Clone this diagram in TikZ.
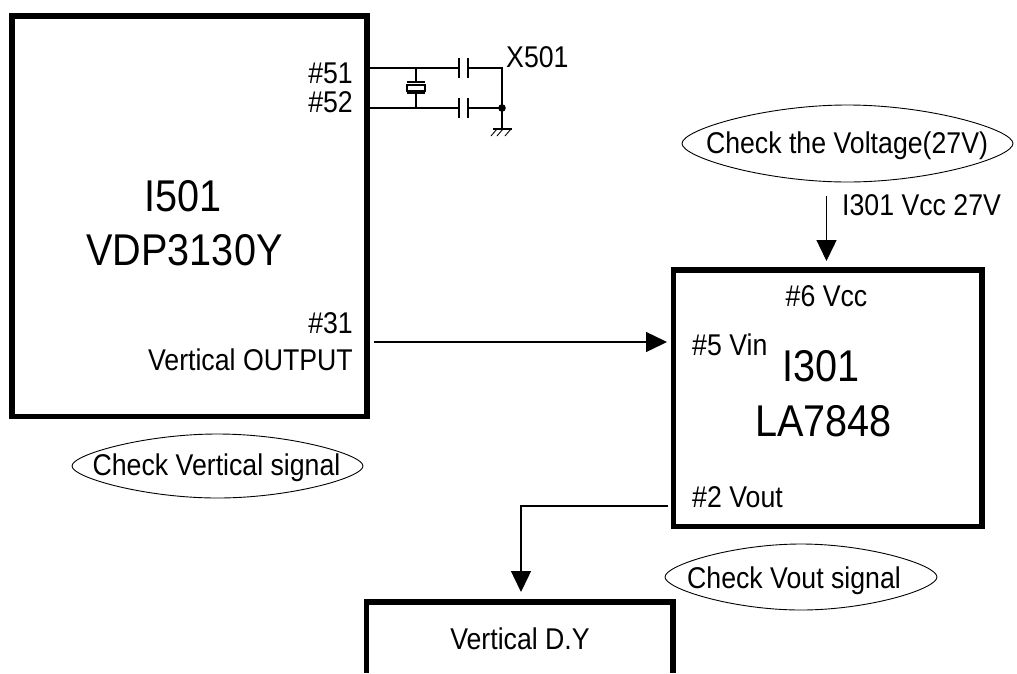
\documentclass[tikz,border=0pt]{standalone}
\usepackage{fontspec}
\setmainfont{Liberation Sans}
\newfontfamily\tallfont[FakeStretch=0.89]{Liberation Sans}
\usetikzlibrary{arrows.meta}
\newcommand\lensoval[4]{%
 \path[oval,shift={(#1,#2)},xscale=#3,yscale=#4]
  (-1,0) .. controls (-1,-.36) and (-.5,-1) .. (0,-1)
  .. controls (.5,-1) and (1,-.36) .. (1,0)
  .. controls (1,.36) and (.5,1) .. (0,1)
  .. controls (-.5,1) and (-1,.36) .. (-1,0) -- cycle;}
\tikzset{
 x=1pt,y=-1pt,
 blockbox/.style={draw=black,line width=5.5pt,fill=none},
 wire/.style={draw=black,line width=1.1pt},
 thin wire/.style={draw=black,line width=0.9pt},
 flow/.style={draw=black,line width=1.4pt,-{Triangle[width=20pt,length=21pt]}},
 oval/.style={draw=black,line width=0.9pt},
 lab/.style={inner sep=0pt,font=\tallfont\fontsize{30}{32}\selectfont},
 big/.style={inner sep=0pt,font=\tallfont\fontsize{44.5}{48}\selectfont},
}
\begin{document}
\begin{tikzpicture}
\useasboundingbox (0,0) rectangle (1017,673);
% blocks
\path[blockbox] (12,16) rectangle (367,416.5);
\path[blockbox] (673.5,270) rectangle (982,526.5);
\path[blockbox] (366.5,602) -- (673,602);
\path[blockbox] (366.5,599.3) -- (366.5,673);
\path[blockbox] (673,599.3) -- (673,673);
% labels in I501
\node[big] (i501) at (183,196) {I501};
\node[big] (vdp) at (184.5,250) {VDP3130Y};
\node[lab,anchor=east] (p51) at (353,73) {\#51};
\node[lab,anchor=east] (p52) at (353,102.5) {\#52};
\node[lab,anchor=east] (p31) at (353,323) {\#31};
\node[lab,anchor=east] (vo) at (353,360) {Vertical OUTPUT};
% crystal circuit
\coordinate (a51) at (367,68);
\coordinate (a52) at (367,108);
\coordinate (c1l) at (459,68);
\coordinate (c1r) at (468,68);
\coordinate (c2l) at (459,108);
\coordinate (c2r) at (468,108);
\coordinate (jt) at (502,68);
\coordinate (jd) at (502,108);
\coordinate (gnd) at (502,129);
\coordinate (xt) at (416,68);
\coordinate (xb) at (416,108);
\path[wire] (a51) -- (c1l) (c1r) -- (jt) -- (gnd);
\path[wire] (a52) -- (c2l) (c2r) -- (jd);
\path[wire] (c1l)+(0,-10) -- +(0,10) (c1r)+(0,-10) -- +(0,10);
\path[wire] (c2l)+(0,-10) -- +(0,10) (c2r)+(0,-10) -- +(0,10);
\path[wire] (xt) -- (416,82) (xb) -- (416,93);
\path[wire] (407,82) -- (425,82) (407,93) -- (425,93);
\path[wire] (407,85) rectangle (425,91);
\fill[black] (jd) circle (3.8);
\path[wire] (493,129) -- (512,129);
\path[thin wire] (497,129) -- (491,136) (503,129) -- (497,136) (511,129) -- (505,136);
\node[lab,anchor=west] (x501) at (506,57) {X501};
% I301
\lensoval{847.5}{143.5}{165.5}{38.5}
\node[lab,anchor=base] (chkv) at (847,153) {Check the Voltage(27V)};
\node[lab,anchor=west] (vcc27) at (842,205) {I301 Vcc 27V};
\coordinate (vs) at (826.5,196);
\coordinate (ve) at (826.5,261);
\path[flow] (vs) -- (ve);
\node[lab] (p6) at (826.5,296.5) {\#6 Vcc};
\node[lab,anchor=west] (p5) at (692,344.5) {\#5 Vin};
\node[big] (i301) at (821,366) {I301};
\node[big] (la) at (823.5,421.5) {LA7848};
\node[lab,anchor=west] (p2) at (692,497) {\#2 Vout};
% connectors
\coordinate (s31) at (374,342);
\coordinate (e31) at (667,342);
\path[flow] (s31) -- (e31);
\coordinate (s2) at (668,506);
\coordinate (m2) at (521,506);
\coordinate (e2) at (521,592);
\path[flow] (s2) -- (m2) -- (e2);
% ovals
\lensoval{217.5}{466}{145.5}{32}
\node[lab,anchor=base] (chkvs) at (216.5,475) {Check Vertical signal};
\lensoval{801}{577}{136}{33}
\node[lab,anchor=base] (chkvo) at (794,588) {Check Vout signal};
\node[lab] (dy) at (520,638.5) {Vertical D.Y};
\end{tikzpicture}
\end{document}
